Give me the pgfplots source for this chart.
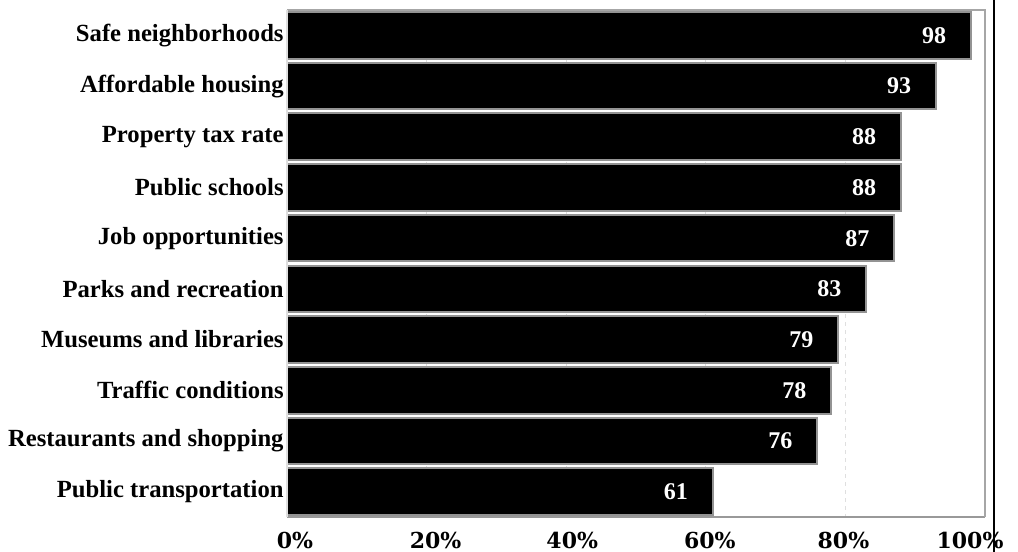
\documentclass[border=0pt]{standalone}
\usepackage{pgfplots}
\pgfplotsset{compat=1.18}
\usepackage{fontspec}
\setmainfont{Liberation Serif}
\newfontfamily\tickfont{DejaVu Serif}
% tick label, nudged sideways by #1 (in px)
\newcommand\tl[2]{\makebox[0pt][c]{\kern#1\dimexpr 1.5pt\relax #2}}
\begin{document}
\begin{tikzpicture}[x=0.75pt,y=0.75pt]
\path[use as bounding box] (0,0) rectangle (1018,552);
\begin{axis}[
  at={(287*0.75pt,35*0.75pt)}, anchor=south west,
  scale only axis, width=698*0.75pt, height=507*0.75pt,
  xbar, bar width=35pt,
  xmin=0, xmax=100,
  ymin=-0.5, ymax=9.5, y dir=reverse,
  xtick={0,20,...,100},
  xticklabels={\tl{8}{0\%},\tl{9}{20\%},\tl{6}{40\%},\tl{4}{60\%},\tl{-2}{80\%},\tl{-15}{100\%}},
  xticklabel style={font=\tickfont\bfseries\fontsize{16.5}{18}\selectfont, yshift=-8pt},
  ytick={0,...,9},
  yticklabels={Safe neighborhoods, Affordable housing, Property tax rate, Public schools, Job opportunities, Parks and recreation, Museums and libraries, Traffic conditions, Restaurants and shopping, Public transportation},
  yticklabel style={font=\bfseries\fontsize{18.5}{20}\selectfont, xshift=1pt},
  /pgf/number format/assume math mode=true,
  major tick length=0pt,
  xmajorgrids, grid style={gray!25, dashed, line width=1pt},
  axis line style={gray!80, line width=1.5pt},
  axis x line*=bottom, axis y line*=left,
  clip=false,
  nodes near coords={\pgfmathprintnumber{\pgfplotspointmeta}},
  nodes near coords style={font=\bfseries\fontsize{18}{20}\selectfont, white, anchor=center, xshift=-37*0.75pt},
  point meta=x,
]
\addplot[fill=black, draw=gray!85, line width=1.5pt] coordinates {
  (98,0) (93,1) (88,2) (88,3) (87,4) (83,5) (79,6) (78,7) (76,8) (61,9)};
\draw[gray!70, line width=1.5pt] (rel axis cs:0,1) -- (rel axis cs:1,1) -- (rel axis cs:1,0);
\draw[gray!25, line width=1.5pt] (rel axis cs:0,0) -- (rel axis cs:0,1);
\end{axis}
\draw[black, line width=0.9pt] (994,0) -- (994,552);
\end{tikzpicture}
\end{document}
